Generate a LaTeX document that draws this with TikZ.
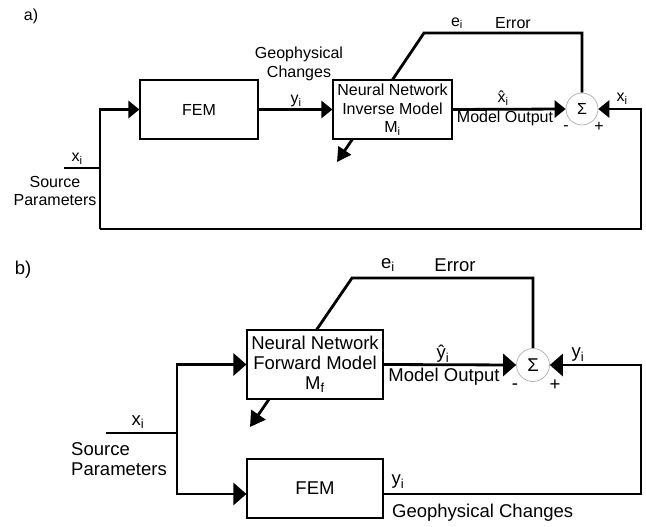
\documentclass[tikz,border=0pt]{standalone}
\usepackage{fontspec}
\setmainfont{Liberation Sans}
\usetikzlibrary{arrows.meta,backgrounds}
\begin{document}
\begin{tikzpicture}[x=1pt,y=-1pt,
  blk/.style={draw, line width=1.1pt, fill=white, inner sep=0pt, align=center},
  sumc/.style={circle, draw=gray!70, line width=0.6pt, fill=white, inner sep=0pt},
  wire/.style={line width=2.8pt},
  ha/.style={-{Triangle[length=11pt,width=17pt]}},
  hb/.style={-{Triangle[length=13pt,width=22pt]}},
  da/.style={-{Triangle[length=14pt,width=15pt]}},
  db/.style={-{Triangle[length=15pt,width=17pt]}},
  fa/.style={font=\fontsize{16}{18.5}\selectfont},
  fb/.style={font=\fontsize{18.5}{20}\selectfont},
  lbl/.style={inner sep=0pt, align=center},
]
\useasboundingbox (0,0) rectangle (646,527);

% ---------------- panel a ----------------
\node[lbl,fa] (la) at (31,16) {a)};
\node[blk,fa,minimum width=118pt,minimum height=59pt] (femA) at (199,109.5) {FEM};
\node[blk,fa,minimum width=119pt,minimum height=59pt] (nnA) at (392.5,109.5) {Neural Network\\Inverse Model\\M\textsubscript{i}};
\node[sumc,minimum size=32pt,fa] (sumA) at (582,109) {Σ};

\coordinate (srcA) at (64,168);
\coordinate (jA) at (100,168);
\coordinate (blA) at (100,229);
\coordinate (brA) at (641,229);
\coordinate (eA) at (424,33);
\coordinate (adA) at (337,162);

\begin{scope}[on background layer]
\draw[wire,da] (sumA.north) |- (eA) -- (adA);
\end{scope}
\draw[wire] (srcA) -- (jA);
\draw[wire,ha] (blA) |- (femA.west);
\draw[wire,ha] (blA) -- (brA) |- (sumA.east);
\draw[wire,ha] (femA.east) -- (nnA.west);
\draw[wire,ha] (nnA.east) -- (sumA.west);

\node[lbl,fa] (geoA) at (299,64) {Geophysical\\Changes};
\node[lbl,fa] (yA) at (296,101) {y\textsubscript{i}};
\node[lbl,fa] (xA) at (77,159) {x\textsubscript{i}};
\node[lbl,fa] (spA) at (55,191) {Source\\Parameters};
\node[lbl,fa] (xhA) at (503,98) {\^{x}\textsubscript{i}};
\node[lbl,fa] (moA) at (505,118) {Model Output};
\node[lbl,fa] (mA) at (566,128) {-};
\node[lbl,fa] (pA) at (599,127) {+};
\node[lbl,fa] (xrA) at (622,99) {x\textsubscript{i}};
\node[lbl,fa] (eiA) at (457,23) {e\textsubscript{i}};
\node[lbl,fa] (erA) at (513,23) {Error};

% ---------------- panel b ----------------
\node[lbl,fb] (lb) at (23,270) {b)};
\node[blk,fb,minimum width=136pt,minimum height=69pt] (nnB) at (315,364.5) {Neural Network\\Forward Model\\M\textsubscript{f}};
\node[blk,fb,minimum width=136pt,minimum height=59pt] (femB) at (315,488.5) {FEM};
\node[sumc,minimum size=33pt,fb] (sumB) at (533,365) {Σ};

\coordinate (srcB) at (106,433);
\coordinate (jB) at (177,433);
\coordinate (rbB) at (641,494);
\coordinate (eB) at (352,278);
\coordinate (adB) at (250,427);

\begin{scope}[on background layer]
\draw[wire,db] (sumB.north) |- (eB) -- (adB);
\end{scope}
\draw[wire] (srcB) -- (jB);
\draw[wire,hb] (jB) |- (nnB.west);
\draw[wire,hb] (jB) |- ([yshift=-5.5pt]femB.west);
\draw[wire,hb] ([yshift=-5.5pt]femB.east) -- (rbB) |- (sumB.east);
\draw[wire,hb] (nnB.east) -- (sumB.west);

\node[lbl,fb] (xB) at (138,422) {x\textsubscript{i}};
\node[lbl,fb,align=left,anchor=west] (spB) at (71,459.5) {Source\\Parameters};
\node[lbl,fb] (yhB) at (443,354) {\^{y}\textsubscript{i}};
\node[lbl,fb] (moB) at (444,377) {Model Output};
\node[lbl,fb] (mB) at (515,387) {-};
\node[lbl,fb] (pB) at (555,385) {+};
\node[lbl,fb] (yrB) at (578,355) {y\textsubscript{i}};
\node[lbl,fb] (yoB) at (398,482) {y\textsubscript{i}};
\node[lbl,fb,anchor=west] (geoB) at (392,513) {Geophysical Changes};
\node[lbl,fb] (eiB) at (388,265) {e\textsubscript{i}};
\node[lbl,fb] (erB) at (455,265) {Error};
\end{tikzpicture}
\end{document}
